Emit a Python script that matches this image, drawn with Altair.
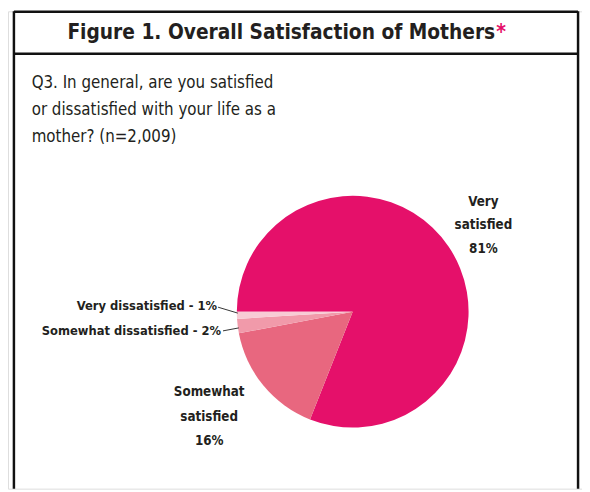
import math
import altair as alt
import pandas as pd

# ---- data ----
categories = ["Very satisfied", "Somewhat satisfied", "Somewhat dissatisfied", "Very dissatisfied"]
percents = [81, 16, 2, 1]
slice_colors = ["#E5106A", "#E8677F", "#F19AAA", "#F8CCD5"]
title_text = "Figure 1. Overall Satisfaction of Mothers"
question_lines = [
    "Q3. In general, are you satisfied",
    "or dissatisfied with your life as a",
    "mother? (n=2,009)",
]

FONT = "DejaVu Sans Condensed, DejaVu Sans, sans-serif"
INK = "#231F20"
W, H = 582, 484
CX, CY, R = 349.5, 304.5, 117.5
START = 1.5 * math.pi

df = pd.DataFrame({"category": categories, "percent": percents, "order": list(range(len(categories)))})

pie = alt.Chart(df).mark_arc(outerRadius=R).encode(
    theta=alt.Theta("percent:Q", stack=True,
                    scale=alt.Scale(domain=[0, sum(percents)], range=[START, START + 2 * math.pi])),
    color=alt.Color("category:N", scale=alt.Scale(domain=categories, range=slice_colors), legend=None),
    order=alt.Order("order:Q"),
    x=alt.value(CX),
    y=alt.value(CY),
)


def txt(text, x, y, size, weight="normal", align="left", color=INK, lh=None):
    kw = dict(font=FONT, fontSize=size, fontWeight=weight, align=align,
              baseline="alphabetic", color=color, lineBreak="\n")
    if lh is not None:
        kw["lineHeight"] = lh
    return alt.Chart(pd.DataFrame({"t": [text]})).mark_text(**kw).encode(
        text="t:N", x=alt.value(x), y=alt.value(y))


def rule(x, y, x2=None, y2=None, width=2.5, color="#111111"):
    enc = dict(x=alt.value(x), y=alt.value(y))
    if x2 is not None:
        enc["x2"] = alt.value(x2)
    if y2 is not None:
        enc["y2"] = alt.value(y2)
    return alt.Chart(pd.DataFrame({"a": [0]})).mark_rule(strokeWidth=width, color=color).encode(**enc)


layers = [
    # frame
    rule(6, 0.5, x2=578),
    rule(6, 43, x2=578),
    rule(6, 0, y2=H),
    rule(578, 0, y2=H),
    # title
    txt(title_text, 494, 28, 21, weight="bold", align="right"),
    txt("*", 495, 28, 21, weight="bold", align="left", color="#E5106A"),
    # question
    txt("\n".join(question_lines), 24, 78, 17, lh=27),
    pie,
    # leader lines
    rule(213, 300, x2=233, y2=306, width=1, color="#333333"),
    rule(218, 324, x2=234, y2=321, width=1, color="#333333"),
    # labels
    txt(f"{categories[3]} - {percents[3]}%", 212, 303, 13, weight="bold", align="right"),
    txt(f"{categories[2]} - {percents[2]}%", 216, 328, 13, weight="bold", align="right"),
    txt(f"Very\nsatisfied\n{percents[0]}%", 482, 197, 13.5, weight="bold", align="center", lh=24),
    txt(f"Somewhat\nsatisfied\n{percents[1]}%", 204, 390, 13.5, weight="bold", align="center", lh=25),
]

chart = alt.layer(*layers).properties(
    width=W, height=H,
    autosize=alt.AutoSizeParams(type="none"),
    padding=0,
).configure_view(stroke=None).configure(background="white")

chart.save("out.html", embed_options={"renderer": "svg", "actions": False})
